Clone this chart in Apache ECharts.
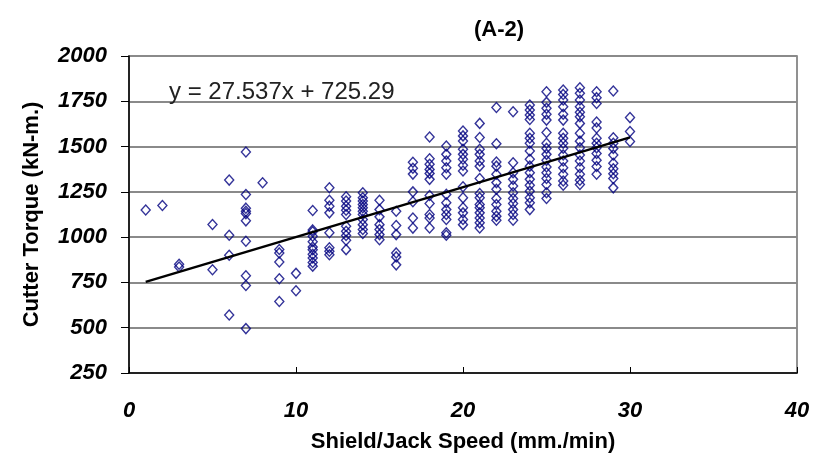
<!DOCTYPE html>
<html>
<head>
<meta charset="utf-8">
<script src="https://cdn.jsdelivr.net/npm/echarts@6/dist/echarts.min.js"></script>
<style>
html,body{margin:0;padding:0;background:#fff;}
#chart{width:820px;height:462px;}
</style>
</head>
<body>
<div id="chart"></div>
<script>
// Shield/Jack speed values (mm./min) — one column of points per speed
const speeds = [1, 2, 3, 5, 6, 7, 8, 9, 10, 11, 12, 13, 14, 15, 16, 17, 18, 19, 20, 21, 22, 23, 24, 25, 26, 27, 28, 29, 30];
// Cutter torque readings (kN-m.) for each speed above
const torqueBySpeed = [
  [1150],
  [1175],
  [850, 835],
  [1070, 820],
  [1315, 1010, 900, 570],
  [1470, 1235, 1160, 1143, 1130, 1090, 977, 787, 733, 495],
  [1300],
  [932, 913, 863, 770, 645],
  [800, 704],
  [1147, 1040, 1030, 1005, 975, 945, 930, 905, 885, 860, 840],
  [1273, 1204, 1171, 1134, 1024, 941, 922, 903],
  [1223, 1199, 1171, 1149, 1125, 1060, 1032, 1009, 983, 931],
  [1245, 1217, 1199, 1180, 1162, 1143, 1125, 1097, 1069, 1042, 1020],
  [1204, 1152, 1112, 1069, 1042, 1014, 986],
  [1143, 1064, 1014, 913, 891, 847],
  [1413, 1380, 1348, 1250, 1195, 1106, 1050],
  [1553, 1433, 1402, 1374, 1352, 1319, 1230, 1186, 1125, 1106, 1051],
  [1503, 1457, 1420, 1383, 1347, 1236, 1190, 1152, 1125, 1097, 1024, 1010],
  [1586, 1559, 1531, 1485, 1457, 1430, 1397, 1365, 1278, 1217, 1162, 1134, 1097, 1069],
  [1628, 1550, 1485, 1457, 1420, 1392, 1324, 1241, 1217, 1180, 1162, 1134, 1106, 1079, 1051],
  [1716, 1516, 1415, 1392, 1347, 1301, 1264, 1213, 1180, 1143, 1116, 1093],
  [1692, 1411, 1356, 1319, 1282, 1245, 1213, 1186, 1152, 1125, 1093],
  [1729, 1702, 1674, 1650, 1573, 1546, 1518, 1476, 1430, 1392, 1356, 1319, 1286, 1254, 1217, 1190, 1152],
  [1803, 1744, 1711, 1678, 1646, 1578, 1518, 1490, 1457, 1424, 1387, 1356, 1324, 1291, 1245, 1213],
  [1812, 1788, 1757, 1720, 1678, 1646, 1573, 1546, 1518, 1491, 1454, 1420, 1383, 1347, 1310, 1287],
  [1825, 1794, 1757, 1720, 1689, 1665, 1628, 1573, 1530, 1493, 1454, 1420, 1383, 1347, 1314, 1291],
  [1803, 1770, 1738, 1636, 1603, 1546, 1518, 1493, 1462, 1425, 1390, 1347],
  [1807, 1549, 1518, 1490, 1454, 1408, 1377, 1350, 1324, 1272],
  [1660, 1583, 1528]
];
// Linear trend line end points (y = 27.537x + 725.29)
const trendX = [1, 30];
const trendY = [753, 1551];
// Tick labels
const xTicks = [0, 10, 20, 30, 40];
const yTicks = [250, 500, 750, 1000, 1250, 1500, 1750, 2000];
const equationText = 'y = 27.537x + 725.29';
const chartTitle = '(A-2)';
const xAxisTitle = 'Shield/Jack Speed (mm./min)';
const yAxisTitle = 'Cutter Torque (kN-m.)';

const scatterData = [];
speeds.forEach((s, i) => torqueBySpeed[i].forEach(t => scatterData.push([s, t])));
const trendData = trendX.map((x, i) => [x, trendY[i]]);

const FONT = 'Arial';
const TICK_FONT = "italic bold 22px 'Liberation Sans', Arial";
const chart = echarts.init(document.getElementById('chart'), null, {renderer: 'canvas'});
chart.setOption({
  animation: false,
  backgroundColor: '#fff',
  title: {
    text: chartTitle,
    left: 494,
    textAlign: 'center',
    top: 14,
    textStyle: {fontFamily: FONT, fontSize: 22, fontWeight: 'bold', color: '#000'}
  },
  grid: {
    left: 129, right: 23, top: 56, bottom: 89,
    show: true, borderColor: '#6e6e6e', borderWidth: 1.5, backgroundColor: 'transparent'
  },
  xAxis: {
    type: 'value', min: xTicks[0], max: xTicks[xTicks.length - 1], interval: xTicks[1] - xTicks[0],
    name: xAxisTitle, nameLocation: 'middle', nameGap: 58,
    nameTextStyle: {fontFamily: FONT, fontSize: 22, fontWeight: 'bold', color: '#000'},
    axisLine: {show: true, onZero: false, lineStyle: {color: '#000', width: 1.5}},
    axisTick: {show: true, inside: true, length: 6, lineStyle: {color: '#000', width: 1}},
    axisLabel: {show: false},
    splitLine: {show: false}
  },
  yAxis: {
    type: 'value', min: yTicks[0], max: yTicks[yTicks.length - 1], interval: yTicks[1] - yTicks[0],
    name: yAxisTitle, nameLocation: 'middle', nameGap: 86, nameRotate: 90,
    nameTextStyle: {fontFamily: FONT, fontSize: 22, fontWeight: 'bold', color: '#000'},
    axisLine: {show: true, onZero: false, lineStyle: {color: '#000', width: 1.5}},
    axisTick: {show: true, inside: false, length: 8, lineStyle: {color: '#000', width: 1}},
    axisLabel: {show: false},
    splitLine: {show: true, lineStyle: {color: '#8a8a8a', width: 2}}
  },
  series: [
    {
      type: 'scatter',
      data: scatterData,
      symbol: 'diamond',
      symbolSize: [9, 10],
      itemStyle: {color: 'rgba(255,255,255,0)', borderColor: '#000080', borderWidth: 1.4},
      z: 3
    },
    {
      type: 'line',
      data: trendData,
      symbol: 'none',
      lineStyle: {color: '#000', width: 2.5},
      z: 4
    }
  ]
});

// Italic tick labels placed through the chart's own axis scales
const origin = chart.convertToPixel({gridIndex: 0}, [xTicks[0], yTicks[0]]);
const labels = [];
yTicks.forEach(v => {
  const p = chart.convertToPixel({gridIndex: 0}, [xTicks[0], v]);
  labels.push({type: 'text', x: p[0] - 22, y: p[1],
    style: {text: String(v), font: TICK_FONT, fill: '#000', align: 'right', verticalAlign: 'middle'}, z: 10});
});
xTicks.forEach(v => {
  const p = chart.convertToPixel({gridIndex: 0}, [v, yTicks[0]]);
  labels.push({type: 'text', x: p[0], y: origin[1] + 27,
    style: {text: String(v), font: TICK_FONT, fill: '#000', align: 'center', verticalAlign: 'top'}, z: 10});
});
labels.push({
  type: 'text', x: 169, y: 92,
  style: {text: equationText, font: '24px ' + FONT, fill: '#222', align: 'left', verticalAlign: 'middle'},
  z: 10
});
chart.setOption({graphic: labels});
</script>
</body>
</html>
